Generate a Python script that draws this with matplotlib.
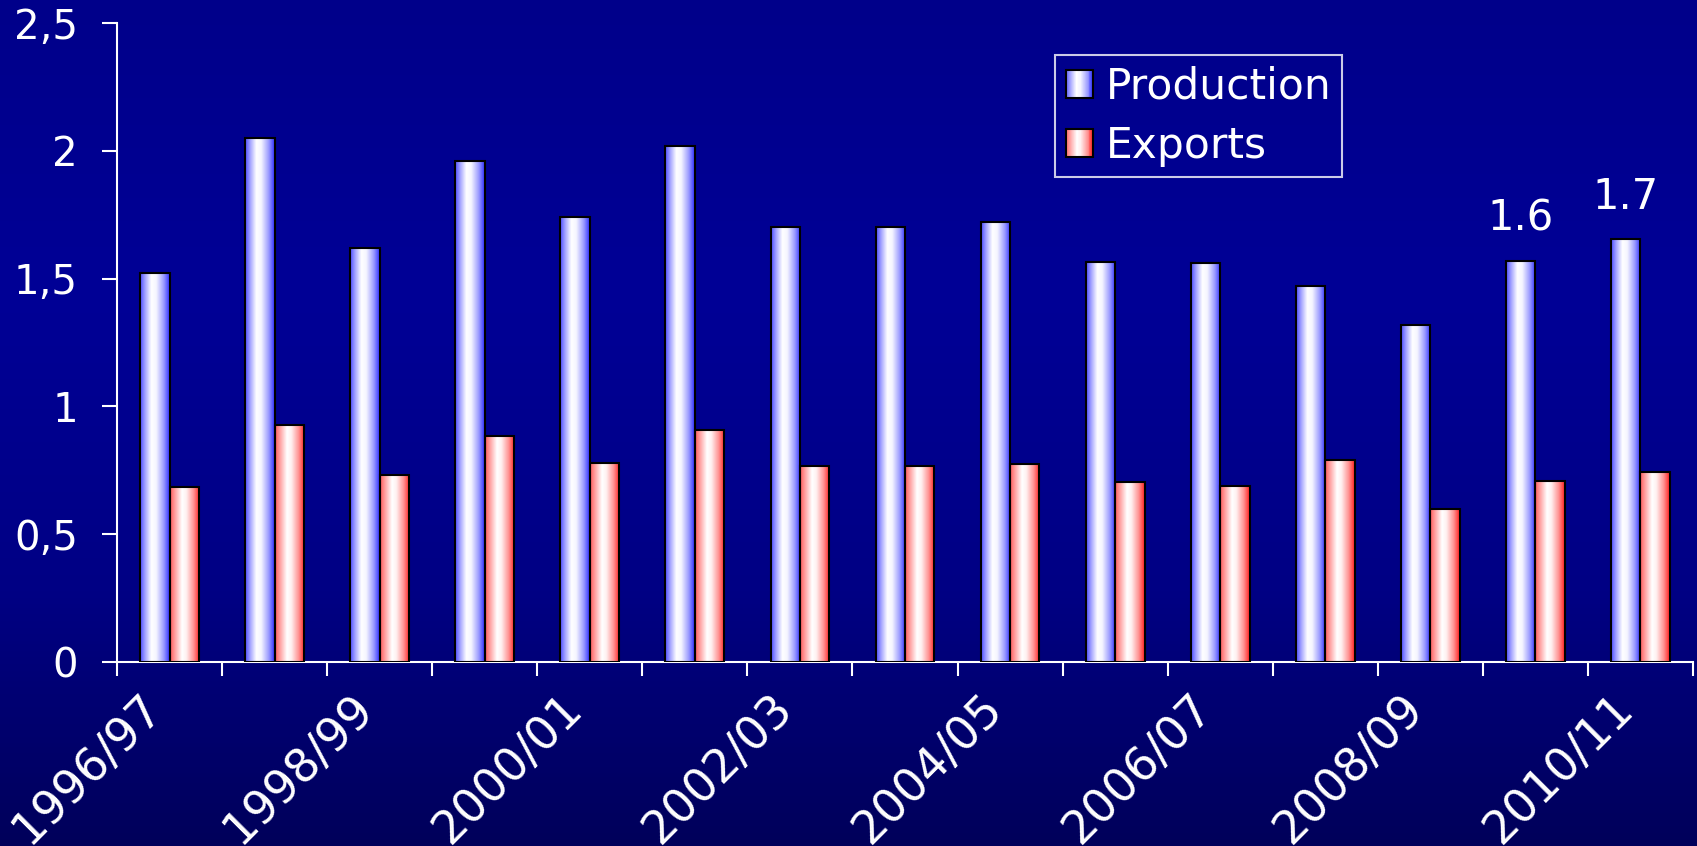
import numpy as np
import matplotlib
matplotlib.use("Agg")
import matplotlib.pyplot as plt
from matplotlib.colors import LinearSegmentedColormap
from matplotlib.patches import Rectangle
from matplotlib.legend_handler import HandlerBase
import matplotlib.transforms as mtransforms

# ---------------- data ----------------
seasons = ["1996/97", "1997/98", "1998/99", "1999/00", "2000/01", "2001/02",
           "2002/03", "2003/04", "2004/05", "2005/06", "2006/07", "2007/08",
           "2008/09", "2009/10", "2010/11"]
production = [1.52, 2.05, 1.62, 1.96, 1.74, 2.02, 1.70, 1.70, 1.72, 1.565,
              1.56, 1.47, 1.32, 1.57, 1.655]
exports = [0.685, 0.927, 0.73, 0.883, 0.78, 0.906, 0.766, 0.766, 0.773, 0.703,
           0.688, 0.792, 0.597, 0.71, 0.745]
series_names = ["Production", "Exports"]
ytick_values = [0, 0.5, 1, 1.5, 2, 2.5]
ytick_labels = ["0", "0,5", "1", "1,5", "2", "2,5"]
annot_index = [13, 14]
annot_text = ["1.6", "1.7"]

plt.rcParams["font.family"] = ["DejaVu Sans"]

W, H = 1697, 846
fig = plt.figure(figsize=(W / 100, H / 100), dpi=100)

# background gradient
bg = fig.add_axes([0, 0, 1, 1], zorder=0)
bg_cmap = LinearSegmentedColormap.from_list(
    "bg", [(0, "#00008a"), (0.35, "#000096"), (0.7, "#000084"), (1, "#00005a")])
bg.imshow(np.linspace(0, 1, 256).reshape(-1, 1), cmap=bg_cmap, aspect="auto",
          extent=[0, 1, 0, 1])
bg.axis("off")

prod_cmap = LinearSegmentedColormap.from_list(
    "p", [(0, "#4b4bff"), (0.15, "#9a9aff"), (0.38, "#ffffff"), (0.55, "#f4f4ff"),
          (0.8, "#9999ff"), (1, "#2d2dff")])
exp_cmap = LinearSegmentedColormap.from_list(
    "e", [(0, "#ff5a5a"), (0.15, "#ff9a9a"), (0.4, "#ffffff"), (0.55, "#fff0f0"),
          (0.8, "#ff9090"), (1, "#ff1e1e")])

ax = fig.add_axes([117 / W, 1 - 662 / H, (1693 - 117) / W, (662 - 23) / H], zorder=1)
ax.set_facecolor("none")

x = np.arange(len(seasons))
bw = 0.28
pb = ax.bar(x - bw / 2, production, bw, facecolor="none", edgecolor="black",
            linewidth=1.5, zorder=3)
eb = ax.bar(x + bw / 2, exports, bw, facecolor="none", edgecolor="black",
            linewidth=1.5, zorder=3)

grad = np.linspace(0, 1, 128).reshape(1, -1)
for bars, cmap in [(pb, prod_cmap), (eb, exp_cmap)]:
    for r in bars:
        x0, y0 = r.get_xy()
        w, h = r.get_width(), r.get_height()
        im = ax.imshow(grad, cmap=cmap, aspect="auto", interpolation="bilinear",
                       extent=[x0, x0 + w, y0, y0 + h], zorder=2)
        im.set_clip_path(r)

ax.set_xlim(-0.5, len(seasons) - 0.5)
ax.set_ylim(0, 2.5)

for s in ["top", "right"]:
    ax.spines[s].set_visible(False)
for s in ["left", "bottom"]:
    ax.spines[s].set_color("white")
    ax.spines[s].set_linewidth(1.5)

# y axis
ax.set_yticks(ytick_values, ytick_labels)
ax.tick_params(axis="y", colors="white", length=15 * 0.72, width=1.5,
               direction="out", pad=24 * 0.72, labelsize=29)

# x axis: ticks at category boundaries, labels every other category
ax.set_xticks(np.arange(-0.5, len(seasons), 1))
ax.tick_params(axis="x", which="major", length=14 * 0.72, width=1.5,
               color="white", labelbottom=False)
ax.set_xticks(x[::2], seasons[::2], minor=True)
ax.tick_params(axis="x", which="minor", length=0, pad=24 * 0.72,
               labelsize=33, labelcolor="white")
offset = mtransforms.ScaledTranslation(-30 / 100, 0, fig.dpi_scale_trans)
for lbl in ax.get_xticklabels(minor=True):
    lbl.set_rotation(45)
    lbl.set_ha("right")
    lbl.set_va("top")
    lbl.set_rotation_mode("anchor")
    lbl.set_transform(lbl.get_transform() + offset)

# annotations
for i, t in zip(annot_index, annot_text):
    ax.annotate(t, (x[i] - bw / 2, production[i]), xytext=(0, 15),
                textcoords="offset points", ha="center", va="bottom",
                color="white", fontsize=30)


# legend with gradient swatches
class GradHandler(HandlerBase):
    def __init__(self, cmap):
        super().__init__()
        self.cmap = cmap

    def create_artists(self, legend, orig_handle, xdescent, ydescent, width,
                       height, fontsize, trans):
        n = 30
        arts = []
        for k in range(n):
            arts.append(Rectangle((-xdescent + width * k / n, -ydescent),
                                  width / n * 1.1, height,
                                  facecolor=self.cmap((k + 0.5) / n),
                                  edgecolor="none", transform=trans))
        arts.append(Rectangle((-xdescent, -ydescent), width, height,
                              facecolor="none", edgecolor="black", lw=1.5,
                              transform=trans))
        return arts


h1 = Rectangle((0, 0), 1, 1)
h2 = Rectangle((0, 0), 1, 1)
leg = ax.legend([h1, h2], series_names,
                handler_map={h1: GradHandler(prod_cmap), h2: GradHandler(exp_cmap)},
                loc="upper left", bbox_to_anchor=(1055 / W, 1 - 55 / H),
                bbox_transform=fig.transFigure, borderaxespad=0,
                fontsize=30.5, labelcolor="white", frameon=True, fancybox=False,
                handlelength=0.65, handleheight=0.65, handletextpad=0.3,
                borderpad=0.25, labelspacing=0.4)
fr = leg.get_frame()
fr.set_facecolor("none")
fr.set_edgecolor("white")
fr.set_linewidth(1.5)

fig.savefig("out.png", dpi=100)
